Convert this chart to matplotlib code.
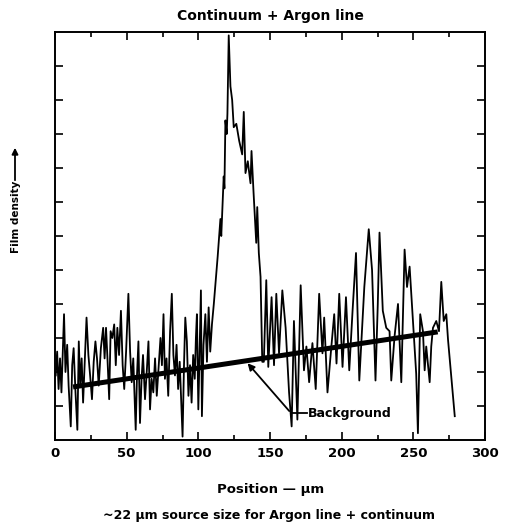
import numpy as np
import matplotlib
matplotlib.use("Agg")
from matplotlib import pyplot as plt

# scan: position (um) and film density (arb. units)
pos = [0.5, 1.5, 2.5, 3.5, 4.5, 6.3, 7.3, 8.5, 9.5, 11.0, 12.0, 13.0, 14.3, 15.6, 16.6, 17.6, 18.6, 19.6,
       21.0, 22.0, 23.3, 24.5, 25.8, 27.0, 28.2, 29.3, 30.5, 32.0, 33.6, 34.6, 35.6, 36.6, 37.8, 38.8,
       40.0, 41.3, 42.4, 43.5, 44.7, 46.0, 47.2, 48.3, 49.6, 51.2, 52.4, 53.5, 54.6, 56.3, 57.2, 58.2,
       59.3, 60.4, 61.4, 62.8, 64.0, 65.2, 66.3, 67.4, 68.6, 69.8, 71.0, 72.2, 73.6, 74.6, 75.7, 76.7,
       77.8, 79.0, 80.3, 81.5, 82.6, 83.7, 84.8, 85.9, 87.0, 89.0, 90.0, 90.9, 92.0, 93.1, 94.2, 95.3,
       96.4, 97.5, 98.3, 99.0, 100.0, 101.8, 102.5, 103.6, 104.9, 106.0, 107.2, 108.3, 109.5, 110.8,
       112.3, 113.5, 115.4, 116.0, 117.7, 118.2, 118.9, 119.8, 120.3, 121.2, 122.4, 123.6, 124.7, 126.5,
       128.5, 130.6, 131.7, 132.9, 134.5, 136.4, 137.1, 138.5, 140.4, 141.1, 142.2, 143.4, 144.6, 145.7,
       147.4, 148.8, 151.1, 152.8, 154.4, 156.3, 158.6, 160.9, 163.3, 165.1, 166.7, 169.1, 171.4, 173.7,
       175.4, 177.3, 179.6, 181.9, 184.3, 186.6, 187.8, 190.1, 192.4, 194.8, 196.4, 198.3, 200.6, 203.0,
       205.3, 207.6, 210.0, 212.3, 215.8, 218.9, 221.2, 223.6, 225.2, 226.4, 228.7, 231.1, 233.4, 234.6,
       236.9, 239.3, 241.6, 243.9, 245.6, 247.4, 249.7, 252.0, 253.2, 254.8, 256.7, 257.9, 259.0, 261.4,
       262.5, 263.7, 266.0, 267.9, 269.5, 271.2, 273.0, 274.2, 278.9]
density = [1.9, 2.6, 1.5, 2.4, 1.4, 3.7, 2.0, 2.8, 1.6, 0.4, 2.2, 2.7, 1.4, 0.3, 2.9, 1.6, 2.4, 1.1,
           2.6, 3.6, 2.5, 1.9, 1.2, 2.3, 2.9, 2.4, 1.6, 2.7, 3.3, 2.4, 3.3, 2.4, 1.2, 3.2,
           3.0, 3.4, 2.2, 3.3, 2.5, 3.8, 2.2, 1.5, 2.6, 4.3, 2.6, 1.7, 2.4, 0.3, 1.9, 2.9,
           0.5, 1.8, 2.5, 1.2, 2.0, 2.9, 0.9, 1.8, 1.4, 2.4, 1.3, 2.1, 3.0, 2.2, 3.7, 1.8,
           2.4, 1.3, 3.2, 4.3, 2.5, 1.9, 2.8, 1.5, 2.3, 0.1, 2.2, 3.6, 2.9, 1.3, 2.2, 1.1,
           2.5, 1.8, 3.0, 3.7, 0.9, 4.4, 0.7, 2.8, 3.7, 2.3, 3.9, 2.6, 3.4, 4.0,
           4.8, 5.4, 6.5, 6.0, 7.75, 7.4, 9.4, 9.0, 9.6, 11.9, 10.4, 10.0, 9.2, 9.3,
           8.8, 8.4, 9.65, 7.85, 8.2, 7.55, 8.5, 7.3, 5.8, 6.85, 5.5, 4.8, 2.3, 2.3,
           4.7, 2.15, 4.2, 2.2, 4.3, 2.55, 4.4, 3.3, 1.4, 0.4, 3.5, 0.6, 4.55, 2.05,
           2.75, 1.7, 2.85, 1.5, 4.3, 2.55, 3.6, 1.4, 2.55, 3.7, 2.25, 4.3, 2.15, 4.2,
           2.05, 3.8, 5.5, 1.75, 4.5, 6.2, 5.0, 1.75, 4.0, 6.1, 3.8, 3.3, 3.2, 1.75,
           3.05, 4.0, 1.7, 5.6, 4.5, 5.1, 3.5, 1.95, 0.2, 3.7, 3.2, 2.05, 2.75, 1.7,
           2.75, 3.3, 3.5, 3.2, 4.65, 3.5, 3.7, 2.95, 0.7]

# hand-drawn background line (end points)
bg_x = [12.6, 267.0]
bg_y = [1.56, 3.18]

x_ticks = [0, 50, 100, 150, 200, 250, 300]

fig = plt.figure(figsize=(5.07, 5.27), dpi=100)
ax = fig.add_axes([55 / 507, 87 / 527, 430 / 507, 408 / 527])

ax.plot(pos, density, color='black', lw=1.3)
ax.plot(bg_x, bg_y, color='black', lw=3.6, solid_capstyle='butt')

# Background label with arrow
ax.annotate('', xy=(133.1, 2.32), xytext=(164.7, 0.79),
            arrowprops=dict(arrowstyle='-|>', color='black', lw=1.3, mutation_scale=10))
ax.plot([164.7, 175.5], [0.79, 0.79], color='black', lw=1.3)
ax.text(176.5, 0.79, 'Background', fontsize=9, fontweight='bold', va='center', ha='left')

ax.set_xlim(0, 300)
ax.set_ylim(0, 12)
ax.set_xticks(x_ticks)
ax.set_xticklabels([str(t) for t in x_ticks], fontsize=9.5, fontweight='bold')
ax.set_xticks(np.arange(25, 300, 50), minor=True)
ax.set_yticks(np.arange(1, 12))
ax.set_yticklabels([])
ax.tick_params(which='both', direction='in', top=True, right=True, width=1.2)
ax.tick_params(which='major', length=6, pad=5)
ax.tick_params(which='minor', length=3.5)
for s in ax.spines.values():
    s.set_linewidth(1.4)

ax.set_title('Continuum + Argon line', fontsize=10, fontweight='bold', pad=9)

fig.text(271 / 507, 1 - 490 / 527, 'Position \u2014 \u00b5m', fontsize=9.5, fontweight='bold',
         ha='center', va='center')
fig.text(269 / 507, 1 - 515 / 527, '~22 \u00b5m source size for Argon line + continuum',
         fontsize=9, fontweight='bold', ha='center', va='center')

# y label with upward arrow
fig.text(16 / 507, 1 - 217 / 527, 'Film density', rotation=90, fontsize=7.5, fontweight='bold',
         ha='center', va='center')
fig.add_artist(matplotlib.patches.FancyArrowPatch((15 / 507, 1 - 183 / 527), (15 / 507, 1 - 145 / 527),
               transform=fig.transFigure, arrowstyle='-|>', mutation_scale=9, color='black', lw=1.3))

fig.savefig('out.png', dpi=100)
